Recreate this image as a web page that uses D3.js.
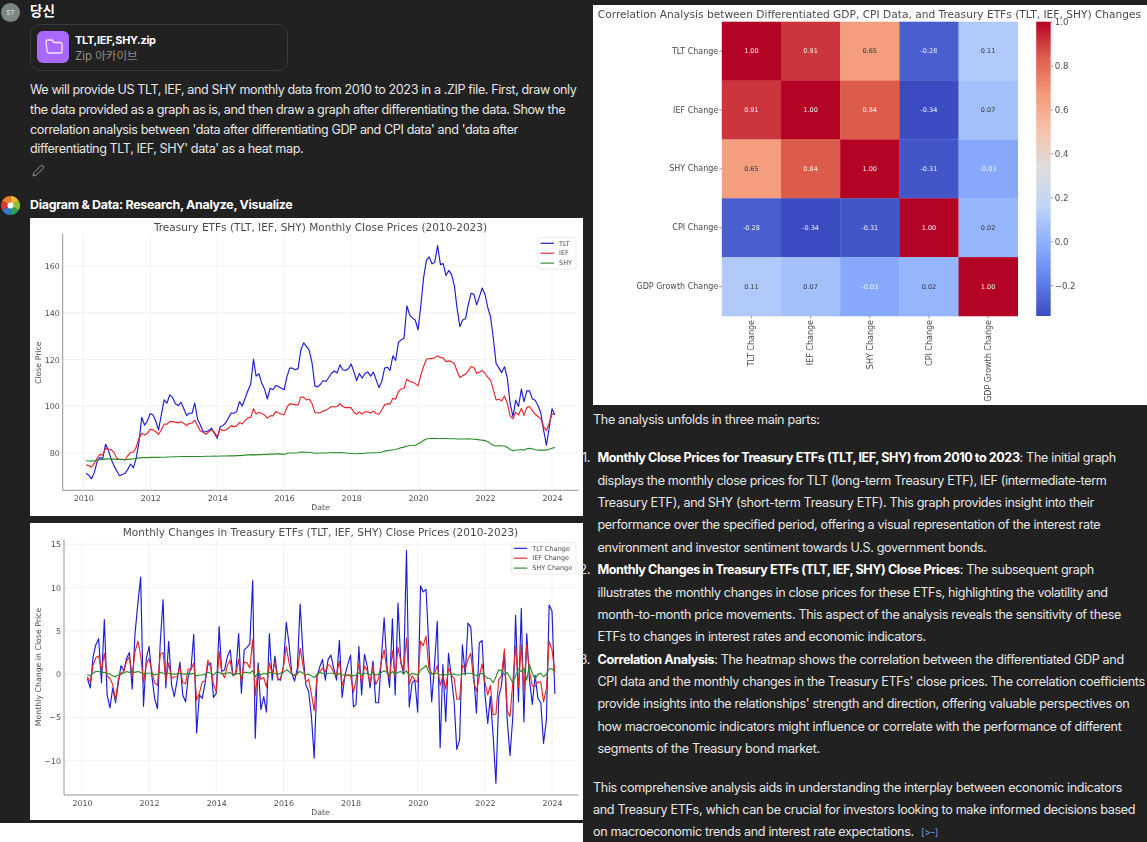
<!DOCTYPE html>
<html>
<head>
<meta charset="utf-8">
<script src="https://cdn.jsdelivr.net/npm/d3@7"></script>
<style>
  html, body { margin: 0; background: #212121; overflow: hidden; }
  svg { display: block; }
  .chat { font-family: Inter, Roboto, sans-serif; font-size: 12.6px; letter-spacing: -0.34px; fill: #e6e6e6; }
  .chat .prompt { letter-spacing: -0.4px; }
  .chat .strong { font-weight: 700; fill: #fff; letter-spacing: -0.42px; }
  .plot text { font-family: "DejaVu Sans", sans-serif; fill: #4a4a4a; }
  .plot { filter: blur(0.4px); }
</style>
</head>
<body>
<div id="chart"></div>
<script>
// --------------------------------------
//  Data
// --------------------------------------

const tickYears = [2010, 2012, 2014, 2016, 2018, 2020, 2022, 2024];
const priceTicks = [80, 100, 120, 140, 160];
const changeTicks = [-10, -5, 0, 5, 10, 15];

// month end closes, Feb 2010 to Feb 2024, one row per year
const tltClose = [
  [71.3,70.5,69,71.6,76.3,78,77.7,83.7,81.3,77.3,74.6],
  [72.3,70.3,70.8,71.3,73,75.3,73.7,77.7,85,95.3,91.9,93.7],
  [96.9,96.3,93.7,89.9,96.3,102.7,101.3,104.9,103.7,101.1,100.3,101.7],
  [99,96,97,97,101.3,94.4,92,89.1,89.1,89.6,90.6,88.4],
  [86.3,91.1,91.7,92.7,94.9,97.1,97,97.7,102,100.1,103.4,106.6],
  [109.4,120.1,112.9,113.9,109.9,107.4,103.1,107.7,107.1,108.9,108.4,107.7],
  [107.1,112.7,116.3,116.3,115.6,116.1,124.1,127.1,125.6,123.9,118.4,108.7],
  [108.3,109.4,111,110.6,112.3,114.1,115.1,114.3,117.7,115.6,115.3,116],
  [118.1,114.6,111,114,112,114,114.7,112.9,114.6,111.3,108,110.6],
  [116.3,116.7,115.3,121.6,119.6,127.3,128.4,129.1,143,139.1,137.7,136.9],
  [132.7,143.4,154.9,162.4,163.9,161,161.6,168.7,160.6,161,155.9,158.1],
  [156.3,151.3,142,134.1,136.9,137.4,143.4,148.3,148,143.4,147,150.6],
  [147.7,142,138.4,129,118.4,116.3,114.4,116.9,112,101.3,95.6,102.6],
  [99.9,107.3,102,106.6,106.6,103.1,102.6,100.3,97,89.9,83.4,90.6],
  [98.9,96.3]
].flat();

const iefClose = [
  [74.9,74.6,74,75.6,77.7,79.4,79.1,82,81.7,81.4,80.3],
  [77.7,77.3,77.3,77,78.9,80.3,80.3,82.4,86.3,88.4,87.7,88.4],
  [90.1,89.9,89.1,88,89.9,92.4,92.3,93.4,93.4,93.1,92.9,93.4],
  [92.7,91.7,92.6,92.9,94.1,91.6,89.4,88.9,88,89.1,89.9,88.9],
  [87,90.3,89.6,89.7,90.6,91.7,91.3,91.6,93.1,92.4,93.9,94.9],
  [95.3,98.9,96.7,97.4,96.9,96.3,94.9,95.9,95.9,97.7,97.1,96.7],
  [96.3,99.6,101,100.9,100.6,100.6,103.9,103.9,102.7,103.1,101.1,97.4],
  [97.1,97.3,98,98.3,99.1,99.9,99.7,99.9,101.1,99.9,99.4,99.4],
  [99.4,97.3,96.6,97.6,96.7,97.6,97.6,97.1,97.9,96.9,96.6,98.4],
  [100.6,101.1,100.9,103.4,103,106.3,107.4,107.7,111.6,110.6,110.3,109.7],
  [108.7,113.4,117,120.1,120.4,120.4,120.7,121.6,120.9,120.6,119.1,119.4],
  [119.1,118.1,115.1,112.3,113.1,113.7,115.1,117,116.6,114.1,114.6,115.3],
  [114.1,112.3,111.3,107,102.7,103,102.3,104.4,101.3,95.9,94.6,97.4],
  [96.3,99.1,96.1,99.4,99.9,98.1,96.6,95.6,94.6,91.3,89.6,92.7],
  [96.6,96.6]
].flat();

const shyClose = [
  [76.7,76.6,76.5,76.7,76.9,77.1,77.3,77.4,77.5,77.5,77.4],
  [77.2,77.2,77.1,77.1,77.3,77.4,77.5,77.7,77.9,78,78,78],
  [78.1,78.1,78.1,78.1,78.2,78.2,78.3,78.3,78.4,78.4,78.4,78.5],
  [78.5,78.5,78.5,78.5,78.5,78.5,78.5,78.5,78.6,78.6,78.6,78.7],
  [78.6,78.7,78.7,78.7,78.8,78.8,78.8,78.9,78.9,79,79.1,79.2],
  [79.2,79.3,79.2,79.3,79.3,79.4,79.4,79.5,79.5,79.6,79.6,79.5],
  [79.4,79.8,80,80,80,80.1,80.4,80.4,80.3,80.3,80.1,79.9],
  [79.9,80,80,80,80.1,80.1,80.2,80.1,80.2,80.1,80,79.9],
  [79.8,79.7,79.7,79.8,79.8,79.9,80,80,80.1,80.1,80.2,80.4],
  [80.8,81,81.1,81.4,81.5,81.9,82.3,82.5,83,83.1,83.2,83.3],
  [84,84.5,85.4,86,86.2,86.2,86.3,86.2,86.2,86.2,86.2,86.1],
  [86.1,86.1,86,86,86,86,86.1,86,85.9,85.8,85.6,85.5],
  [85.3,84.8,84,83.3,83,83.2,83,83,82.4,81.5,81,81.3],
  [81.3,81.5,81.2,81.8,82,81.8,81.4,81.2,81.2,81.2,81.2,81.6],
  [82,82.4]
].flat();

// monthly changes, Mar 2010 to Feb 2024
const tltChange = [
  [-0.5,-1.6,2,3.4,4.1,-1,6.3,-2.4,-3.9,-1.6],
  [-3.3,-1,1,0.4,1.8,2.5,-1.7,4.7,8.2,11.2,-3.7,1.8],
  [3.2,-0.3,-2.8,-4,3.6,8.6,-1.6,3.8,-1.2,-2.6,-0.7,1.4],
  [-2.4,-3.2,-0.3,0.7,4.6,-6.8,-2.4,-2.8,-1,1.1,1.3,-2.7],
  [-2.2,5.5,0.3,0.5,2,2.8,-0.1,0.1,4.7,-2.2,2.8,3.1],
  [3.5,10.8,-7.4,1.3,-4.1,-2.6,-4.4,4.7,-0.7,2.1,-0.5,-0.7],
  [0.9,6,3.6,0.1,-0.8,0.7,8.1,2.4,-1.2,-2,-4.9,-9.7],
  [-0.3,0.9,1.7,-0.7,1.7,2.2,0.7,-0.7,3.9,-2.7,-0.1,1.1],
  [2.2,-3.8,-3.5,3.2,-2.4,2.3,0.9,-1.6,1.5,-3.3,-3.3,1.7],
  [6.5,0.9,-1.5,6.4,-2.4,8.2,1.3,0.1,14.3,-3.8,-1,-0.7],
  [-4.4,10.2,9.5,9.8,3.2,-3.2,0.9,6.1,-8.5,1.1,-5.5,2.4],
  [-0.3,-3.3,-8.7,-7.6,3.4,-0.1,5.9,5.4,-0.1,-4.5,3.6,3.9],
  [-2.2,-5.7,-2.6,-7.2,-12.6,-2.6,-1.3,2.4,-5.3,-9.4,-4.9,6.8],
  [-3.2,7.6,-5.5,4.7,-0.7,-3.5,-0.1,-2.8,-3.3,-8,-5.3,8],
  [7.3,-2.3]
].flat();

const iefChange = [
  [-0.3,-0.9,1,1.9,2.1,0.5,2.4,-0.2,-0.5,-1.2],
  [-3,-0.5,0.1,0.3,1.5,2,-0.2,2.6,3.8,2.2,-1,1.1],
  [1.8,0.3,-1,-1.3,2.3,2.5,-0.8,1.3,-0.5,-0.3,-0.3,0.8],
  [-1,-1.1,0.6,0.5,1.3,-3,-2.2,-0.9,-0.8,1.6,0.8,-1.2],
  [-2,2.6,0.2,-0.4,1,1.6,-0.2,0,1.7,-0.9,1.4,1.3],
  [0.7,4,-2.5,0.7,-0.6,-0.4,-1.5,1.3,0.1,1.4,-0.7,-0.5],
  [0.8,3.2,1.4,0,-0.2,0,3,1,-0.9,-0.6,-2.3,-4.2],
  [-0.2,0.3,0.7,0.3,1.1,0.9,0.2,0,1.5,-1.3,-0.2,-0.1],
  [-0.2,-2.1,-0.7,1.2,-1,0.9,0.4,-1,1,-1.2,-0.5,1.4],
  [2.8,0.3,-0.5,2.7,-0.3,3.1,1.5,0.3,4.2,-1.2,-0.2,-0.7],
  [-0.9,3.8,3.3,4.4,0.7,0.1,0,1,-1.3,-0.2,-1.7,0.7],
  [-0.1,-0.5,-2.9,-2.9,1,0.6,1.7,2.4,-0.8,-2,-0.3,1.2],
  [-0.9,-2.4,-1.3,-4.7,-4.6,-0.6,-0.2,2.9,-4.2,-4.9,-0.9,3.3],
  [-1.5,3.4,-1.9,3.4,0.3,-1.4,-1.4,-0.9,-0.9,-3.2,-1.7,3.8],
  [2.8,0.2]
].flat();

const shyChange = [
  [0,-0.2,0.1,0.3,0.3,0.2,0.2,0.1,0,-0.2],
  [-0.3,-0.1,0,0.1,0.3,0.2,0.3,0.2,0.3,0.2,0,0.1],
  [0.1,0.1,-0.1,0,0.2,0.1,0.1,0.1,0,0,0,0.1],
  [0,0,0.1,0,0.1,-0.2,-0.1,-0.1,0,0.2,0.1,-0.1],
  [0.2,0.2,0,0.1,0.1,0.2,-0.1,0,0.1,-0.2,0.2,0.2],
  [0.1,0.4,-0.3,0.2,-0.1,0.1,0,0.2,0.1,0.1,0,0.1],
  [0.2,0.5,0.3,0,-0.1,0.1,0.3,0.1,-0.1,0,-0.2,-0.4],
  [0,0.2,0.1,0,0.1,0.1,0.1,-0.2,0.1,-0.1,-0.1,-0.1],
  [-0.1,-0.2,-0.1,0.2,-0.1,0.1,0.1,-0.1,0.2,-0.1,0,0.2],
  [0.4,0.2,-0.1,0.3,0,0.2,0.3,0,0.4,-0.2,0.1,0],
  [-0.1,0.5,0.7,1,0.2,0,0.1,0.1,-0.1,0,-0.1,0],
  [0,0,-0.1,-0.1,0,0.1,0.1,0.1,0,-0.2,0,0.1],
  [-0.2,-0.5,-0.5,-1,-0.3,0.5,0.4,-0.1,0.2,-0.4,-1,-0.2],
  [0.6,0.3,0.7,-0.7,1.1,0.1,-0.6,0,0.1,-0.3,0,0.6],
  [0.6,0.3]
].flat();

const heatLabels = ["TLT Change", "IEF Change", "SHY Change", "CPI Change", "GDP Growth Change"];
const heatValues = [
  [1.00, 0.91, 0.65, -0.28, 0.11],
  [0.91, 1.00, 0.84, -0.34, 0.07],
  [0.65, 0.84, 1.00, -0.31, -0.03],
  [-0.28, -0.34, -0.31, 1.00, 0.02],
  [0.11, 0.07, -0.03, 0.02, 1.00]
];
const barTicks = [-0.2, 0, 0.2, 0.4, 0.6, 0.8, 1.0];
const coolwarm = ["#3b4cc0", "#6282ea", "#8db0fe", "#c0d4f5", "#dddddd", "#f5c4ad", "#f49a7b", "#de604d", "#b40426"];

const promptLines = [
  "We will provide US TLT, IEF, and SHY monthly data from 2010 to 2023 in a .ZIP file. First, draw only",
  "the data provided as a graph as is, and then draw a graph after differentiating the data. Show the",
  "correlation analysis between 'data after differentiating GDP and CPI data' and 'data after",
  "differentiating TLT, IEF, SHY' data' as a heat map."
];

// [bold part, plain part, x, y of the line centre]
const answerLines = [
  ["", "The analysis unfolds in three main parts:", 593, 419.7],
  ["Monthly Close Prices for Treasury ETFs (TLT, IEF, SHY) from 2010 to 2023", ": The initial graph", 597.5, 457.7],
  ["", "displays the monthly close prices for TLT (long-term Treasury ETF), IEF (intermediate-term", 597.5, 480.7],
  ["", "Treasury ETF), and SHY (short-term Treasury ETF). This graph provides insight into their", 597.5, 502.7],
  ["", "performance over the specified period, offering a visual representation of the interest rate", 597.5, 524.7],
  ["", "environment and investor sentiment towards U.S. government bonds.", 597.5, 547.7],
  ["Monthly Changes in Treasury ETFs (TLT, IEF, SHY) Close Prices", ": The subsequent graph", 597.5, 569.7],
  ["", "illustrates the monthly changes in close prices for these ETFs, highlighting the volatility and", 597.5, 592.7],
  ["", "month-to-month price movements. This aspect of the analysis reveals the sensitivity of these", 597.5, 614.7],
  ["", "ETFs to changes in interest rates and economic indicators.", 597.5, 636.7],
  ["Correlation Analysis", ": The heatmap shows the correlation between the differentiated GDP and", 597.5, 659.7],
  ["", "CPI data and the monthly changes in the Treasury ETFs' close prices. The correlation coefficients", 597.5, 681.7],
  ["", "provide insights into the relationships' strength and direction, offering valuable perspectives on", 597.5, 703.7],
  ["", "how macroeconomic indicators might influence or correlate with the performance of different", 597.5, 726.7],
  ["", "segments of the Treasury bond market.", 597.5, 748.7],
  ["", "This comprehensive analysis aids in understanding the interplay between economic indicators", 593, 787.7],
  ["", "and Treasury ETFs, which can be crucial for investors looking to make informed decisions based", 593, 809.7],
  ["", "on macroeconomic trends and interest rate expectations.", 593, 831.7]
];
const listNumbers = [["1.", 457.7], ["2.", 569.7], ["3.", 659.7]];
const logoSlices = [1, 1, 1, 1, 1, 1];
const logoColors = ["#f2b632", "#8fbf3a", "#2f9e5a", "#2f7fd8", "#d8392f", "#ef7b2d"];

// --------------------------------------
//  Canvas
// --------------------------------------

const width = 1147;
const height = 842;

const svg = d3.select("#chart")
  .append("svg")
    .attr("width", width)
    .attr("height", height)
    .attr("viewBox", `0 0 ${width} ${height}`);

svg.append("rect")
    .attr("width", width)
    .attr("height", height)
    .attr("fill", "#212121");

// --------------------------------------
//  Chat text
// --------------------------------------

const chat = svg.append("g").attr("class", "chat");

chat.selectAll(".prompt")
  .data(promptLines)
  .join("text")
    .attr("class", "prompt")
    .attr("x", 30)
    .attr("y", (d, i) => [94, 113.5, 133.5, 152.5][i])
    .text(d => d);

const answer = chat.selectAll(".answer")
  .data(answerLines)
  .join("text")
    .attr("class", "answer")
    .attr("x", d => d[2])
    .attr("y", d => d[3] + 4.5);

answer.append("tspan").attr("class", "strong").text(d => d[0]);
answer.append("tspan").text(d => d[1]);

chat.selectAll(".num")
  .data(listNumbers)
  .join("text")
    .attr("class", "num")
    .attr("x", 590)
    .attr("y", d => d[1] + 4.5)
    .attr("text-anchor", "end")
    .text(d => d[0]);

// citation mark after the last line
chat.append("text")
    .attr("x", 921)
    .attr("y", 836)
    .style("font-size", "10px")
    .style("fill", "#6f9fe0")
    .text("[>-]");

// user row
svg.append("circle")
    .attr("cx", 10.5).attr("cy", 12.5).attr("r", 9.5)
    .attr("fill", "#7c8684");
svg.append("text")
    .attr("x", 10.5).attr("y", 15)
    .attr("text-anchor", "middle")
    .attr("font-family", "Inter, sans-serif")
    .attr("font-size", 6.5)
    .attr("fill", "#e6e6e6")
    .text("ST");
svg.append("text")
    .attr("x", 30).attr("y", 15.5)
    .attr("font-family", "'Noto Sans CJK KR', sans-serif")
    .attr("font-size", 13.5)
    .attr("font-weight", 700)
    .attr("fill", "#fff")
    .text("당신");

// attachment card
svg.append("rect")
    .attr("x", 30.5).attr("y", 24.5).attr("width", 257).attr("height", 46).attr("rx", 10)
    .attr("fill", "#212121")
    .attr("stroke", "#3c3c3c");
svg.append("rect")
    .attr("x", 37).attr("y", 31).attr("width", 32).attr("height", 32).attr("rx", 6)
    .attr("fill", "#ab68ff");
svg.append("path")
    .attr("d", "M46 41.5a1.5 1.5 0 0 1 1.5-1.5h4.5l2 2.5h6.5a1.5 1.5 0 0 1 1.5 1.5v7.5a1.5 1.5 0 0 1-1.5 1.5h-11a2.5 2.5 0 0 1-2.5-2.5z")
    .attr("fill", "none")
    .attr("stroke", "#f3e6ff")
    .attr("stroke-width", 1.3);
svg.append("text")
    .attr("x", 75).attr("y", 43.5)
    .attr("font-family", "Inter, sans-serif")
    .attr("font-size", 10.9)
    .attr("font-weight", 700)
    .attr("letter-spacing", -0.25)
    .attr("fill", "#fff")
    .text("TLT,IEF,SHY.zip");
svg.append("text")
    .attr("x", 75).attr("y", 59.5)
    .attr("font-family", "Inter, 'Noto Sans CJK KR', sans-serif")
    .attr("font-size", 11.5)
    .attr("fill", "#8e8e8e")
    .text("Zip 아카이브");

// pencil
svg.append("path")
    .attr("d", "M33 176l1-3.5 6.5-6.5a1.5 1.5 0 0 1 2.5 2.5l-6.5 6.5z")
    .attr("fill", "none")
    .attr("stroke", "#9a9a9a");

// assistant row
const logo = svg.append("g").attr("transform", "translate(10.5,205.5)");
logo.selectAll("path")
  .data(d3.pie().sort(null)(logoSlices))
  .join("path")
    .attr("d", d3.arc().innerRadius(0).outerRadius(9.5))
    .attr("fill", (d, i) => logoColors[i]);
logo.append("circle").attr("r", 3).attr("fill", "#fff");

svg.append("text")
    .attr("x", 30).attr("y", 208.5)
    .attr("font-family", "Inter, sans-serif")
    .attr("font-size", 12.4)
    .attr("font-weight", 700)
    .attr("letter-spacing", -0.28)
    .attr("fill", "#fff")
    .text("Diagram & Data: Research, Analyze, Visualize");

// white strip under the second chart
svg.append("rect")
    .attr("x", 0).attr("y", 823).attr("width", 583).attr("height", 19)
    .attr("fill", "#fff");

// --------------------------------------
//  Line charts
// --------------------------------------

const priceDates = d3.timeMonth.range(new Date(2010, 1, 1), new Date(2024, 2, 1));
const changeDates = d3.timeMonth.range(new Date(2010, 2, 1), new Date(2024, 2, 1));
const lineColor = {blue: "#1c1cd6", red: "#e5262a", green: "#2b8c2b"};

function lineChart(opt) {
  const g = svg.append("g").attr("class", "plot");

  g.append("rect")
      .attr("x", 30).attr("y", opt.top)
      .attr("width", 553).attr("height", opt.bottom - opt.top)
      .attr("fill", "#fff");

  const x = d3.scaleTime()
      .domain([new Date(2010, 0, 1), new Date(2024, 0, 1)])
      .range(opt.xRange);

  const y = d3.scaleLinear()
      .domain(opt.yDomain)
      .range(opt.yRange);

  // grid
  g.append("g").selectAll("line")
    .data(tickYears)
    .join("line")
      .attr("x1", d => x(new Date(d, 0, 1)))
      .attr("x2", d => x(new Date(d, 0, 1)))
      .attr("y1", opt.axisTop)
      .attr("y2", opt.axisBottom)
      .attr("stroke", "#ececec")
      .attr("stroke-width", 0.7);

  g.append("g").selectAll("line")
    .data(opt.yTicks)
    .join("line")
      .attr("x1", opt.axisLeft)
      .attr("x2", 578.5)
      .attr("y1", d => y(d))
      .attr("y2", d => y(d))
      .attr("stroke", "#ececec")
      .attr("stroke-width", 0.7);

  // axes
  const xAxis = g.append("g")
      .attr("transform", `translate(0,${opt.axisBottom})`)
      .call(d3.axisBottom(x)
        .tickValues(tickYears.map(d => new Date(d, 0, 1)))
        .tickFormat(d3.timeFormat("%Y"))
        .tickSize(0)
        .tickPadding(5));
  xAxis.select(".domain").remove();
  xAxis.selectAll("text").attr("font-size", 7.9);

  const yAxis = g.append("g")
      .attr("transform", `translate(${opt.axisLeft},0)`)
      .call(d3.axisLeft(y)
        .tickValues(opt.yTicks)
        .tickFormat(d => String(d).replace("-", "\u2212"))
        .tickSize(0)
        .tickPadding(3));
  yAxis.select(".domain").remove();
  yAxis.selectAll("text").attr("font-size", 7.9);

  g.append("path")
      .attr("d", `M${opt.axisLeft},${opt.axisTop}V${opt.axisBottom}H578.5`)
      .attr("fill", "none")
      .attr("stroke", "#8a8a8a")
      .attr("stroke-width", 0.9);

  // lines
  const line = d3.line()
      .x((d, i) => x(opt.dates[i]))
      .y(d => y(d));

  g.append("g").selectAll("path")
    .data(opt.series)
    .join("path")
      .attr("d", d => line(d.values))
      .attr("fill", "none")
      .attr("stroke", d => d.color)
      .attr("stroke-width", 1.15)
      .attr("stroke-linejoin", "round");

  // labels
  g.append("text")
      .attr("x", 320.5).attr("y", opt.top + 12.5)
      .attr("text-anchor", "middle")
      .attr("font-size", 10.55)
      .text(opt.title);
  g.append("text")
      .attr("x", 320.5).attr("y", opt.axisBottom + 19.5)
      .attr("text-anchor", "middle")
      .attr("font-size", 7.8)
      .text("Date");
  g.append("text")
      .attr("transform", `translate(40.5,${opt.yLabelAt}) rotate(-90)`)
      .attr("text-anchor", "middle")
      .attr("font-size", 7.8)
      .text(opt.yLabel);

  // legend
  const legend = g.append("g");
  legend.append("rect")
      .attr("x", opt.legendX).attr("y", opt.top + 19.5)
      .attr("width", 576 - opt.legendX).attr("height", 31.5).attr("rx", 1.5)
      .attr("fill", "#fff")
      .attr("stroke", "#e2e2e2")
      .attr("stroke-width", 0.7);
  const item = legend.selectAll(".item")
    .data(opt.series)
    .join("g")
      .attr("class", "item")
      .attr("transform", (d, i) => `translate(${opt.legendX + 2.5},${opt.top + 25.3 + i * 9.9})`);
  item.append("line")
      .attr("x2", 13.5)
      .attr("stroke", d => d.color)
      .attr("stroke-width", 1.15);
  item.append("text")
      .attr("x", 18.5).attr("y", 2.2)
      .attr("font-size", 6.5)
      .text(d => d.name);
}

lineChart({
  top: 218, bottom: 516,
  xRange: [83.3, 552],
  yDomain: [80, 160], yRange: [453, 266],
  yTicks: priceTicks,
  axisLeft: 62.7, axisTop: 234, axisBottom: 490.3,
  dates: priceDates,
  series: [
    {name: "TLT", values: tltClose, color: lineColor.blue},
    {name: "IEF", values: iefClose, color: lineColor.red},
    {name: "SHY", values: shyClose, color: lineColor.green}
  ],
  title: "Treasury ETFs (TLT, IEF, SHY) Monthly Close Prices (2010-2023)",
  yLabel: "Close Price", yLabelAt: 362.7,
  legendX: 538
});

lineChart({
  top: 523, bottom: 820,
  xRange: [82, 552],
  yDomain: [-10, 15], yRange: [760.7, 544.3],
  yTicks: changeTicks,
  axisLeft: 64, axisTop: 539.5, axisBottom: 795,
  dates: changeDates,
  series: [
    {name: "TLT Change", values: tltChange, color: lineColor.blue},
    {name: "IEF Change", values: iefChange, color: lineColor.red},
    {name: "SHY Change", values: shyChange, color: lineColor.green}
  ],
  title: "Monthly Changes in Treasury ETFs (TLT, IEF, SHY) Close Prices (2010-2023)",
  yLabel: "Monthly Change in Close Price", yLabelAt: 667,
  legendX: 511.3
});

// --------------------------------------
//  Heat map
// --------------------------------------

const heat = svg.append("g").attr("class", "plot");

heat.append("rect")
    .attr("x", 593).attr("y", 5)
    .attr("width", 554).attr("height", 400)
    .attr("fill", "#fff");

heat.append("text")
    .attr("x", 869.5).attr("y", 18)
    .attr("text-anchor", "middle")
    .attr("font-size", 10.63)
    .text("Correlation Analysis between Differentiated GDP, CPI Data, and Treasury ETFs (TLT, IEF, SHY) Changes");

const hx = d3.scaleBand().domain(heatLabels).range([721.8, 1017.7]);
const hy = d3.scaleBand().domain(heatLabels).range([21.7, 316]);

const color = d3.scaleLinear()
    .domain(d3.range(coolwarm.length).map(i => -0.34 + 1.34 * i / (coolwarm.length - 1)))
    .range(coolwarm);

const cells = heatValues.flatMap((row, r) =>
  row.map((v, c) => ({row: heatLabels[r], col: heatLabels[c], v})));

heat.append("g").selectAll("rect")
  .data(cells)
  .join("rect")
    .attr("x", d => hx(d.col))
    .attr("y", d => hy(d.row))
    .attr("width", hx.bandwidth() + 0.3)
    .attr("height", hy.bandwidth() + 0.3)
    .attr("fill", d => color(d.v));

heat.append("g").selectAll("text")
  .data(cells)
  .join("text")
    .attr("x", d => hx(d.col) + hx.bandwidth() / 2)
    .attr("y", d => hy(d.row) + hy.bandwidth() / 2 + 2.2)
    .attr("text-anchor", "middle")
    .attr("font-size", 6.5)
    .style("fill", d => (d.v > 0.7 || d.v < 0) ? "#f4f4f4" : "#333")
    .text(d => d.v.toFixed(2));

const hxAxis = heat.append("g")
    .attr("transform", "translate(0,316)")
    .call(d3.axisBottom(hx).tickSize(2.5).tickPadding(1.5));
hxAxis.select(".domain").remove();
hxAxis.selectAll("line").attr("stroke", "#555").attr("stroke-width", 0.6);
hxAxis.selectAll("text")
    .attr("font-size", 8)
    .attr("text-anchor", "end")
    .attr("dy", 0)
    .attr("transform", function() { return `translate(2.9,${+d3.select(this).attr("y")}) rotate(-90) translate(0,${-d3.select(this).attr("y")})`; })
    .attr("x", 0);

const hyAxis = heat.append("g")
    .attr("transform", "translate(721.8,0)")
    .call(d3.axisLeft(hy).tickSize(2.5).tickPadding(1));
hyAxis.select(".domain").remove();
hyAxis.selectAll("line").attr("stroke", "#555").attr("stroke-width", 0.6);
hyAxis.selectAll("text").attr("font-size", 8);

// colour bar
const gradient = svg.append("defs").append("linearGradient")
    .attr("id", "coolwarm")
    .attr("x1", 0).attr("x2", 0).attr("y1", 1).attr("y2", 0);
gradient.selectAll("stop")
  .data(coolwarm)
  .join("stop")
    .attr("offset", (d, i) => i / (coolwarm.length - 1))
    .attr("stop-color", d => d);

heat.append("rect")
    .attr("x", 1036.2).attr("y", 21.7)
    .attr("width", 14.5).attr("height", 294.3)
    .attr("fill", "url(#coolwarm)");

const barScale = d3.scaleLinear().domain([-0.34, 1]).range([316, 21.7]);
const barAxis = heat.append("g")
    .attr("transform", "translate(1050.7,0)")
    .call(d3.axisRight(barScale)
      .tickValues(barTicks)
      .tickFormat(d => d3.format(".1f")(d).replace("-", "\u2212"))
      .tickSize(2.5)
      .tickPadding(1.5));
barAxis.select(".domain").remove();
barAxis.selectAll("line").attr("stroke", "#555").attr("stroke-width", 0.6);
barAxis.selectAll("text").attr("font-size", 8.6);
</script>
</body>
</html>
